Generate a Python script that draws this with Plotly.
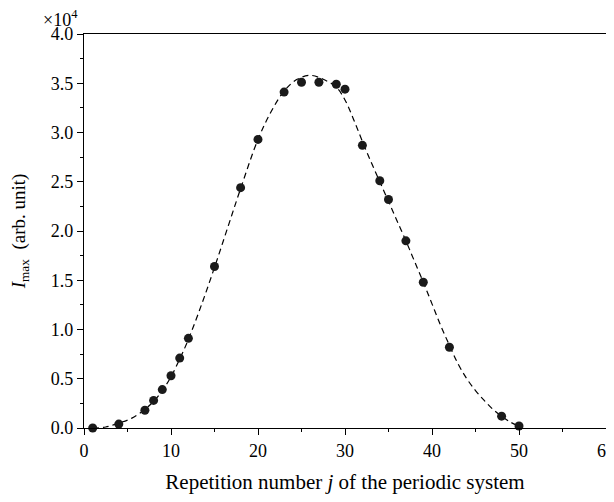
import plotly.graph_objects as go

# measured data (I_max in units of 1e4)
j_vals = [1, 4, 7, 8, 9, 10, 11, 12, 15, 18, 20, 23, 25, 27, 29, 30, 32, 34, 35, 37, 39, 42, 48, 50]
i_vals = [0.0, 0.04, 0.18, 0.28, 0.39, 0.53, 0.71, 0.91, 1.64, 2.44, 2.93, 3.41, 3.51, 3.51, 3.49, 3.44,
          2.87, 2.51, 2.32, 1.90, 1.48, 0.82, 0.12, 0.02]

# dashed fit curve
fit_x = [1, 2.5, 4, 5.5, 7, 8, 9, 10, 11, 12, 13.5, 15, 16.5, 18, 20, 21.5, 23, 24.5, 26, 27.5, 29, 30,
         31, 32, 33, 34, 35, 36, 37, 38, 39, 40, 41, 42, 43, 44, 45, 46, 47, 48, 49, 50]
fit_y = [0.0, 0.01, 0.05, 0.10, 0.19, 0.27, 0.38, 0.52, 0.70, 0.90, 1.25, 1.63, 2.03, 2.43, 2.93, 3.21,
         3.42, 3.54, 3.58, 3.54, 3.46, 3.33, 3.13, 2.91, 2.70, 2.50, 2.30, 2.10, 1.90, 1.69, 1.48, 1.26,
         1.04, 0.84, 0.65, 0.50, 0.38, 0.28, 0.19, 0.12, 0.06, 0.02]

x_ticks = [0, 10, 20, 30, 40, 50, 60]
y_ticks = [0.0, 0.5, 1.0, 1.5, 2.0, 2.5, 3.0, 3.5, 4.0]

FONT = "Liberation Serif"

fig = go.Figure()
fig.add_trace(go.Scatter(x=fit_x, y=fit_y, mode="lines",
                         line=dict(color="black", width=1.2, dash="6px,4px", shape="spline"),
                         hoverinfo="skip", showlegend=False, cliponaxis=False))
fig.add_trace(go.Scatter(x=j_vals, y=i_vals, mode="markers",
                         marker=dict(color="#1a1a1a", size=9), showlegend=False, cliponaxis=False))

axis_common = dict(showgrid=False, zeroline=False, showline=True, linecolor="black", linewidth=1.3,
                   mirror=True, ticks="outside", ticklen=6, tickwidth=1.2, tickcolor="black",
                   automargin=False, ticklabeloverflow="allow",
                   tickfont=dict(family=FONT, size=18, color="black"))

fig.update_xaxes(range=[0, 60], tickvals=x_ticks, ticktext=[str(v) for v in x_ticks],
                 minor=dict(dtick=5, tick0=0, ticks="outside", ticklen=3, tickcolor="black", tickwidth=1.2),
                 title=dict(text="Repetition number <i>j</i> of the periodic system",
                            font=dict(family=FONT, size=21, color="black"), standoff=14),
                 **axis_common)
fig.update_yaxes(range=[0, 4.0], tickvals=y_ticks, ticktext=[f"{v:.1f}" for v in y_ticks],
                 minor=dict(dtick=0.25, tick0=0, ticks="outside", ticklen=3, tickcolor="black", tickwidth=1.2),
                 title=dict(text="<i>I</i><sub>max</sub>  (arb. unit)",
                            font=dict(family=FONT, size=19, color="black"), standoff=22),
                 **axis_common)

fig.add_annotation(text="×10<sup>4</sup>", xref="paper", yref="paper", x=-0.08, y=1.0,
                   xanchor="left", yanchor="bottom", showarrow=False, borderpad=0,
                   font=dict(family=FONT, size=18, color="black"), yshift=3)

# the page body adds an 8px offset, so the figure is sized to fit the 614x502 window
fig.update_layout(width=606, height=494, margin=dict(l=76, r=8, t=26, b=74),
                  plot_bgcolor="white", paper_bgcolor="white")

fig.write_html("out.html")
